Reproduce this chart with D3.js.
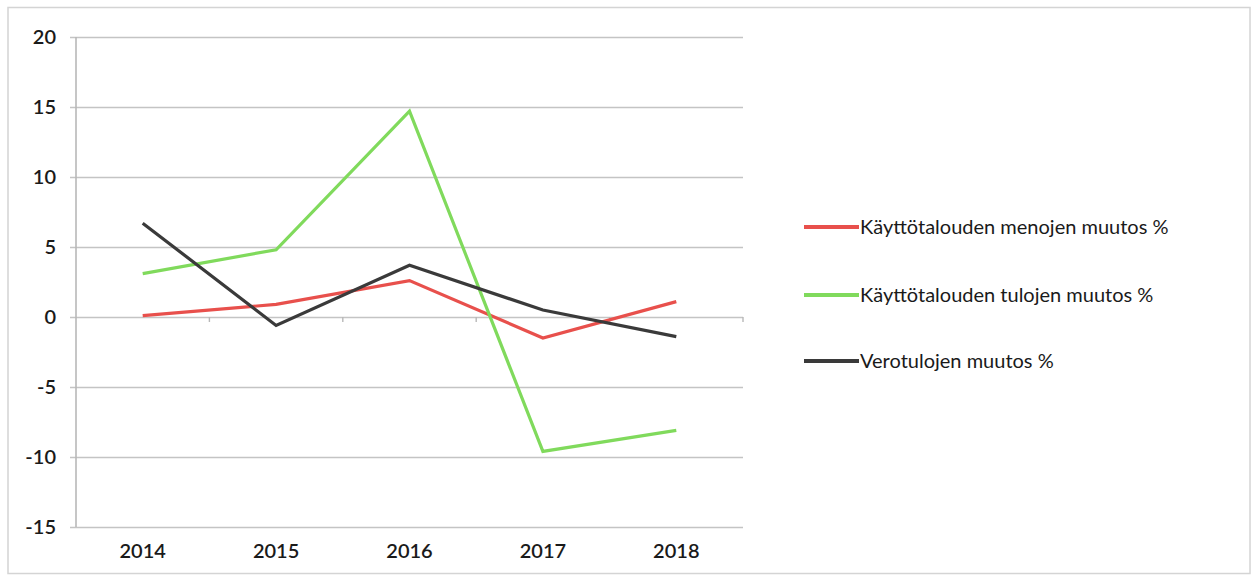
<!DOCTYPE html>
<html><head><meta charset="utf-8">
<script src="https://cdn.jsdelivr.net/npm/d3@7"></script>
<style>body{margin:0;background:#fff;} svg{display:block;}</style>
</head><body>
<svg id="c" width="1253" height="580"></svg>
<script>
const years = ["2014","2015","2016","2017","2018"];
const menot = [0.1, 0.9, 2.6, -1.5, 1.1];
const tulot = [3.1, 4.8, 14.7, -9.6, -8.1];
const verot = [6.7, -0.6, 3.7, 0.5, -1.4];
const yTicks = [20, 15, 10, 5, 0, -5, -10, -15];
const seriesNames = ["Käyttötalouden menojen muutos %", "Käyttötalouden tulojen muutos %", "Verotulojen muutos %"];
const seriesColors = ["#e8504c", "#80da5c", "#3a3a3a"];
const seriesData = [menot, tulot, verot];

const svg = d3.select("#c");
const font = "Lato, 'Open Sans', sans-serif";
svg.append("rect").attr("x",8).attr("y",7.5).attr("width",1242).attr("height",566)
  .attr("fill","#fff").attr("stroke","#d4d4d4").attr("stroke-width",1.5);

const L = 76, R = 743, T = 37, B = 527;
const x = d3.scaleBand().domain(years).range([L, R]);
const y = d3.scaleLinear().domain([-15, 20]).range([B, T]);

// gridlines + y labels
const yAxis = d3.axisLeft(y).tickValues(yTicks).tickSize(-(R - L + 6)).tickFormat(d3.format("d"));
const ga = svg.append("g").attr("transform", `translate(${L - 6},0)`).call(yAxis);
ga.select(".domain").remove();
ga.selectAll(".tick line").attr("stroke", "#c4c4c4").attr("stroke-width", 1.6);
ga.selectAll(".tick text").attr("x", -14).attr("font-family", font).attr("font-size", 20)
  .attr("font-weight", 600).attr("fill", "#1a1a1a").text(d => d < 0 ? "-" + Math.abs(d) : d);

// left axis line
svg.append("line").attr("x1", L).attr("x2", L).attr("y1", T).attr("y2", B)
  .attr("stroke", "#b8b8b8").attr("stroke-width", 1.6);

// x axis at zero
const xAxis = d3.axisBottom(x).tickSize(0).tickPadding(0);
const gx = svg.append("g").attr("transform", `translate(0,${y(0)})`).call(xAxis);
gx.select(".domain").remove();
gx.selectAll(".tick text").remove();
// band boundary ticks
const bounds = years.slice(1).map(d => x(d)).concat([R]);
svg.append("g").selectAll("line").data(bounds).join("line")
  .attr("x1", d => d).attr("x2", d => d).attr("y1", y(0)).attr("y2", y(0) + 5)
  .attr("stroke", "#b8b8b8").attr("stroke-width", 1.4);

// x labels at bottom
svg.append("g").selectAll("text").data(years).join("text")
  .attr("x", d => x(d) + x.bandwidth() / 2).attr("y", 558)
  .attr("text-anchor", "middle").attr("font-family", font).attr("font-size", 20)
  .attr("font-weight", 600).attr("fill", "#1a1a1a").text(d => d);

// lines
const line = d3.line().x((d, i) => x(years[i]) + x.bandwidth() / 2).y(d => y(d));
seriesData.forEach((s, k) => {
  svg.append("path").datum(s).attr("d", line).attr("fill", "none")
    .attr("stroke", seriesColors[k]).attr("stroke-width", 3.2).attr("stroke-linejoin", "miter");
});

// legend
const legY = [227, 295, 361];
const leg = svg.append("g").selectAll("g").data(seriesNames).join("g")
  .attr("transform", (d, i) => `translate(804,${legY[i]})`);
leg.append("line").attr("x1", 0).attr("x2", 55).attr("stroke", (d, i) => seriesColors[i]).attr("stroke-width", 4);
leg.append("text").attr("x", 56).attr("y", 7).attr("font-family", font).attr("font-size", 20)
  .attr("fill", "#1a1a1a").text(d => d);
</script>
</body></html>
